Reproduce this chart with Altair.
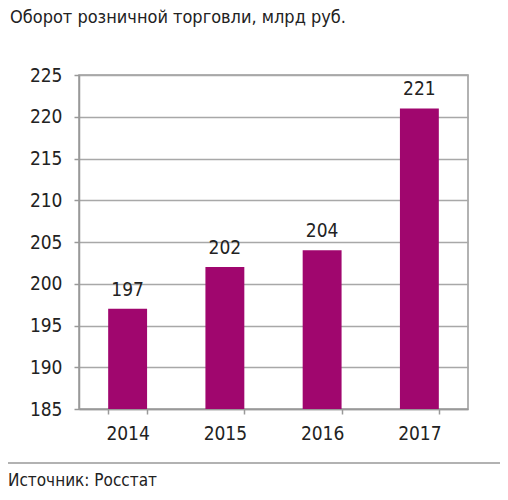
import altair as alt
import pandas as pd

years = ["2014", "2015", "2016", "2017"]
values = [197, 202, 204, 221]
y_ticks = [185, 190, 195, 200, 205, 210, 215, 220, 225]
title_text = "Оборот розничной торговли, млрд руб."
source_text = "Источник: Росстат"

FONT = "Liberation Sans Narrow, DejaVu Sans Condensed, Arial Narrow, sans-serif"
BAR = "#A0066E"

df = pd.DataFrame({"year": years, "value": values})

base = alt.Chart(df)

bars = base.mark_bar(color=BAR, clip=True).encode(
    x=alt.X("year:N", sort=years,
            scale=alt.Scale(paddingInner=0.6, paddingOuter=0.3),
            axis=alt.Axis(title=None, labelAngle=0, tickBand="extent",
                          labelFont=FONT, labelFontSize=19, labelColor="#222",
                          labelPadding=10, tickSize=5, tickColor="#999",
                          domainColor="#999", domainWidth=1.5, tickWidth=1.5,
                          grid=False)),
    y=alt.Y("value:Q",
            scale=alt.Scale(domain=[185, 225], nice=False, zero=False),
            axis=alt.Axis(title=None, values=y_ticks, labelFont=FONT,
                          labelFontSize=19, labelColor="#222", labelPadding=12,
                          tickSize=5, tickColor="#999", tickWidth=1.5,
                          domainColor="#999", domainWidth=1.5,
                          grid=True, gridColor="#A8A8A8", gridWidth=1.5)),
)

labels = base.mark_text(font=FONT, fontSize=19, color="#222",
                        baseline="bottom", dy=-9).encode(
    x=alt.X("year:N", sort=years),
    y=alt.Y("value:Q"),
    text=alt.Text("value:Q"),
)

txt = pd.DataFrame({"title": [title_text], "src": [source_text]})

title = alt.Chart(txt).mark_text(font=FONT, fontSize=18, color="#222",
                                 align="left", baseline="top").encode(
    x=alt.value(-69), y=alt.value(-66), text="title:N")

source = alt.Chart(txt).mark_text(font=FONT, fontSize=17, color="#222",
                                  align="left", baseline="alphabetic").encode(
    x=alt.value(-71), y=alt.value(411), text="src:N")

sep = alt.Chart(txt).mark_rule(color="#999", strokeWidth=1.5).encode(
    x=alt.value(-79), x2=alt.value(437), y=alt.value(388))

chart = alt.layer(bars, labels, title, source, sep).properties(
    width=389, height=334,
    padding={"left": 71, "top": 67, "right": 32, "bottom": 83},
    autosize=alt.AutoSizeParams(type="none"),
).configure_view(stroke="#999", strokeWidth=1.5)

chart.save("out.html", embed_options={"renderer": "svg", "actions": False})
